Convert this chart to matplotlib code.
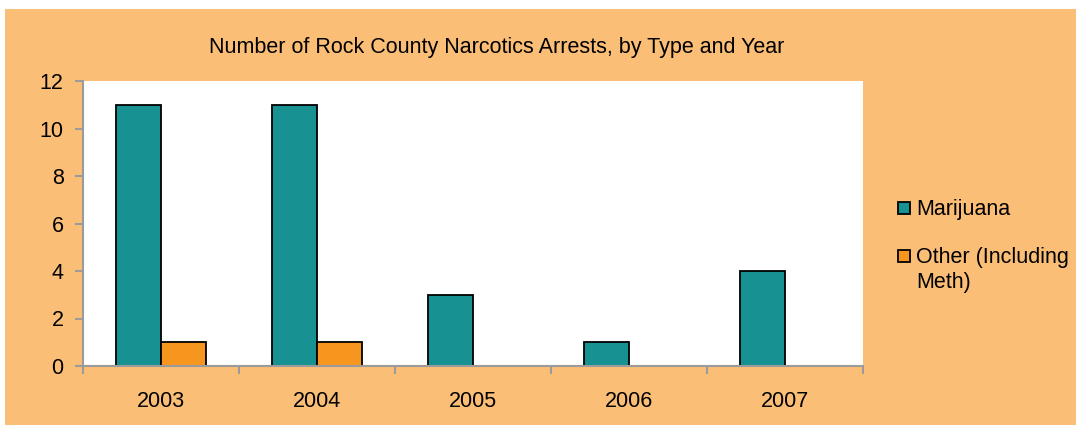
import numpy as np
import matplotlib.pyplot as plt
from matplotlib.patches import Rectangle

years = ['2003', '2004', '2005', '2006', '2007']
marijuana = [11, 11, 3, 1, 4]
other = [1, 1, 0, 0, 0]
series_names = ['Marijuana', 'Other (Including\nMeth)']

BG = '#FBBE77'
TEAL = '#179192'
ORANGE = '#F7961E'
GREY = '#9B9B9B'
FS = 15.5

plt.rcParams['font.family'] = ['Liberation Sans', 'DejaVu Sans']

W, H = 1076, 425
fig = plt.figure(figsize=(W / 100, H / 100), dpi=100)
fig.patch.set_facecolor('white')
fig.patches.append(Rectangle((5 / W, 0), 1, 1 - 9 / H, transform=fig.transFigure,
                             facecolor=BG, edgecolor='none', zorder=-10))

ax = fig.add_axes([83 / W, 1 - 366 / H, (863 - 83) / W, (366 - 81) / H])
ax.set_facecolor('white')

x = np.arange(len(years))
bw = 0.29
ax.bar(x - bw / 2, marijuana, bw, color=TEAL, edgecolor='black', linewidth=1.3)
ax.bar(x + bw / 2, other, bw, color=ORANGE, edgecolor='black', linewidth=1.3)

ax.set_xlim(-0.5, len(years) - 0.5)
ax.set_ylim(0, 12)
ax.set_yticks(range(0, 13, 2))
ax.set_xticks(x)
ax.set_xticklabels(years)
ax.set_xticks(np.arange(-0.5, len(years)), minor=True)
ax.tick_params(axis='x', which='major', length=0, pad=18, labelsize=FS)
ax.tick_params(axis='x', which='minor', length=6, color=GREY, width=1.5)
ax.tick_params(axis='y', length=6, color=GREY, width=1.5, pad=8, labelsize=FS)

for s in ['top', 'right']:
    ax.spines[s].set_visible(False)
for s in ['left', 'bottom']:
    ax.spines[s].set_color(GREY)
    ax.spines[s].set_linewidth(1.5)

fig.text(497 / W, 1 - 48 / H, 'Number of Rock County Narcotics Arrests, by Type and Year',
         ha='center', va='center', fontsize=FS)

# legend drawn by hand: marker sits beside the first line of each label
legend_y = [208, 256]
for name, col, yy in zip(series_names, [TEAL, ORANGE], legend_y):
    fig.patches.append(Rectangle((898 / W, 1 - (yy + 6) / H), 12 / W, 12 / H,
                                 transform=fig.transFigure, facecolor=col,
                                 edgecolor='black', linewidth=1.3))
    fig.text(916 / W, 1 - (yy - 9) / H, name, ha='left', va='top',
             fontsize=FS, linespacing=1.27)

fig.savefig('out.png', dpi=100, facecolor=fig.get_facecolor())
